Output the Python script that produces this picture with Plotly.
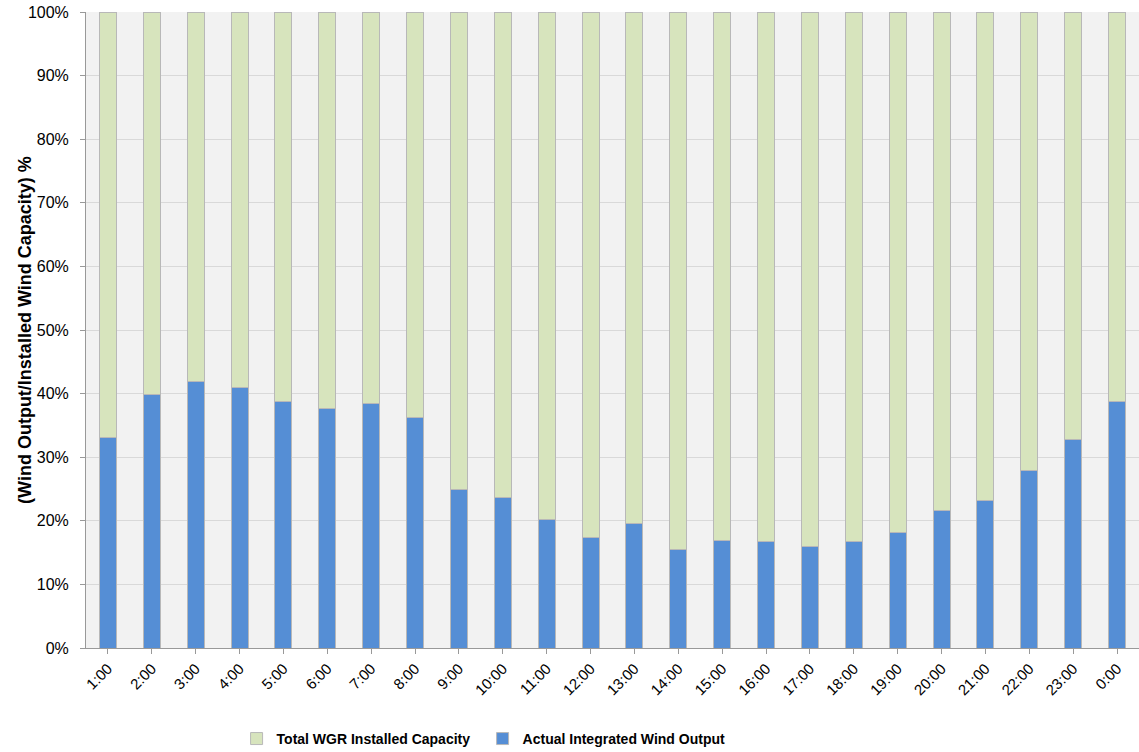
import plotly.graph_objects as go

hours = ["1:00", "2:00", "3:00", "4:00", "5:00", "6:00", "7:00", "8:00", "9:00", "10:00",
         "11:00", "12:00", "13:00", "14:00", "15:00", "16:00", "17:00", "18:00", "19:00",
         "20:00", "21:00", "22:00", "23:00", "0:00"]
actual_output = [33.1, 39.8, 41.9, 41.0, 38.7, 37.6, 38.4, 36.2, 24.9, 23.6,
                 20.2, 17.3, 19.6, 15.5, 16.9, 16.7, 16.0, 16.7, 18.1,
                 21.6, 23.2, 27.9, 32.8, 38.7]
total_capacity = [100.0] * len(hours)
remaining = [t - a for t, a in zip(total_capacity, actual_output)]

fig = go.Figure()
fig.add_trace(go.Bar(
    x=hours, y=actual_output, name="<b>Actual Integrated Wind Output</b>",
    marker=dict(color="#558ed5", line=dict(color="#b8b8b8", width=1)),
))
fig.add_trace(go.Bar(
    x=hours, y=remaining, name="<b>Total WGR Installed Capacity</b>",
    marker=dict(color="#d7e4bd", line=dict(color="#b8b8b8", width=1)),
))

fig.update_layout(
    width=1139, height=752,
    barmode="stack", bargap=0.61,
    paper_bgcolor="white", plot_bgcolor="#f2f2f2",
    margin=dict(l=86, r=0, t=12, b=104, autoexpand=False),
    font=dict(family="Liberation Sans, Arial, sans-serif", color="black"),
    showlegend=True,
    legend=dict(orientation="h", traceorder="reversed", x=0.143, xanchor="left",
                y=-0.143, yanchor="middle", font=dict(size=14, family="Liberation Sans, Arial, sans-serif"),
                itemwidth=30, entrywidth=201, bgcolor="rgba(0,0,0,0)"),
    annotations=[dict(
        text="<b>(Wind Output/Installed Wind Capacity) %</b>", textangle=-90,
        xref="paper", yref="paper", x=-0.058, y=0.5, xanchor="center", yanchor="middle",
        showarrow=False, font=dict(size=18, family="Liberation Sans, Arial, sans-serif"),
    )],
)
fig.update_yaxes(
    range=[0, 100], dtick=10, ticksuffix="%", tickfont=dict(size=16),
    showgrid=True, gridcolor="#d9d9d9", gridwidth=1,
    showline=True, linecolor="#999999", linewidth=1,
    ticks="outside", ticklen=5, tickcolor="#999999", ticklabelstandoff=8,
    ticklabeloverflow="allow",
    zeroline=False, automargin=False,
)
fig.update_xaxes(
    tickangle=-45, tickfont=dict(size=15),
    showline=True, linecolor="#999999", linewidth=1,
    ticks="outside", ticklen=5, tickcolor="#999999",
    ticklabeloverflow="allow",
    showgrid=False, automargin=False,
)

# remove the browser's default 8px body margin so the figure fills the window exactly
fig.write_html("out.html", config={"displayModeBar": False},
               post_script="document.body.style.margin='0px';")
